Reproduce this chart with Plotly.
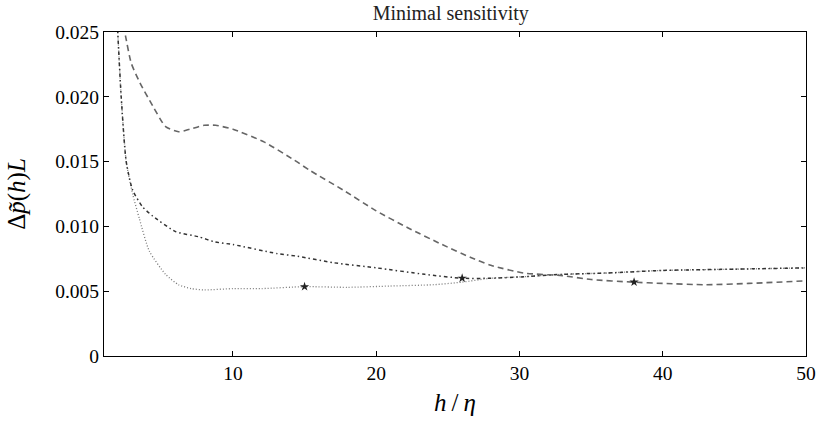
import plotly.graph_objects as go

# dashed curve
h_dash = [2.35, 2.5, 2.9, 3.5, 4.4, 5.3, 6.2, 7.0, 8.0, 8.8, 10, 12.2, 14.3, 15.4, 17.7, 20, 22.2, 24.6, 26.6, 28, 30.3, 33, 35, 37.9, 40, 43, 46, 50]
p_dash = [0.0255, 0.0247, 0.0226, 0.0211, 0.0193, 0.0177, 0.0173, 0.0175, 0.0178, 0.0178, 0.0175, 0.0165, 0.0151, 0.0143, 0.0128, 0.0112, 0.0099, 0.0086, 0.0076, 0.0070, 0.0064, 0.0062, 0.0059, 0.0057, 0.0056, 0.0055, 0.0056, 0.0058]

# dotted curve
h_dot = [1.95, 2.2, 2.55, 3.0, 3.47, 4.16, 5.3, 6.2, 7.1, 8.0, 10, 12, 15, 18, 21, 24, 26, 28, 30, 33, 36, 40, 45, 50]
p_dot = [0.0252, 0.0200, 0.0150, 0.0125, 0.0106, 0.0081, 0.0063, 0.0055, 0.0052, 0.0051, 0.0052, 0.0052, 0.00535, 0.0053, 0.0054, 0.0055, 0.0057, 0.0060, 0.0061, 0.0063, 0.0064, 0.0066, 0.0067, 0.0068]

# dash-dot curve
h_dd = [1.95, 2.2, 2.55, 3.0, 3.7, 4.4, 6.0, 7.6, 8.75, 10, 13.1, 14.5, 17, 20, 23.4, 26, 28, 30, 33, 36, 40, 45, 50]
p_dd = [0.0252, 0.0200, 0.0150, 0.0128, 0.0115, 0.0108, 0.0096, 0.0092, 0.0088, 0.0086, 0.0079, 0.0077, 0.0072, 0.0068, 0.0063, 0.0060, 0.0060, 0.0061, 0.0063, 0.0064, 0.0066, 0.0067, 0.0068]

# minima markers
h_star = [15, 26, 38]
p_star = [0.00535, 0.0060, 0.0057]

x_ticks = [10, 20, 30, 40, 50]
y_ticks = [0, 0.005, 0.010, 0.015, 0.020, 0.025]
y_ticktext = ["0", "0.005", "0.010", "0.015", "0.020", "0.025"]

FONT = "Liberation Serif, Times New Roman, Times, serif"

fig = go.Figure()
fig.add_trace(go.Scatter(x=h_dot, y=p_dot, mode="lines",
                         line=dict(color="#7a7a7a", width=1.3, dash="1px,2px", shape="spline", smoothing=0.6)))
fig.add_trace(go.Scatter(x=h_dd, y=p_dd, mode="lines",
                         line=dict(color="#333333", width=1.5, dash="3.5px,3px,1.5px,3px", shape="spline", smoothing=0.6)))
fig.add_trace(go.Scatter(x=h_dash, y=p_dash, mode="lines",
                         line=dict(color="#666666", width=1.6, dash="6px,4px", shape="spline", smoothing=0.6)))
fig.add_trace(go.Scatter(x=h_star, y=p_star, mode="markers",
                         marker=dict(symbol="star", size=7, color="#222222")))

fig.update_layout(
    width=827, height=423,
    margin=dict(l=104, r=11, t=32, b=64),
    paper_bgcolor="white", plot_bgcolor="white",
    showlegend=False,
    font=dict(family=FONT, color="black", size=19.5),
    title=dict(text="Minimal sensitivity", x=0.545, xanchor="center", xref="container",
               y=0.969, yanchor="middle", yref="container",
               font=dict(family=FONT, size=20, color="#222")),
)
fig.update_xaxes(range=[1, 50], tickvals=x_ticks, ticks="inside", ticklen=5, tickcolor="black",
                 showline=True, linecolor="black", linewidth=1, mirror="ticks", showgrid=False, zeroline=False,
                 tickfont=dict(family=FONT, size=19.5),
                 title=dict(text="<i>h</i>\u2009/\u2009<i>η</i>", font=dict(family=FONT, size=25), standoff=10))
fig.update_yaxes(range=[0, 0.025], tickvals=y_ticks, ticktext=y_ticktext, ticks="inside", ticklen=5, tickcolor="black",
                 showline=True, linecolor="black", linewidth=1, mirror="ticks", showgrid=False, zeroline=False,
                 tickfont=dict(family=FONT, size=19.5),
                 title=dict(text="Δ<i>p\u0303</i>(<i>h</i>)<i>L</i>", font=dict(family=FONT, size=25), standoff=22))

fig.write_html("out.html", config={"displayModeBar": False},
               post_script="document.body.style.margin='0';")
